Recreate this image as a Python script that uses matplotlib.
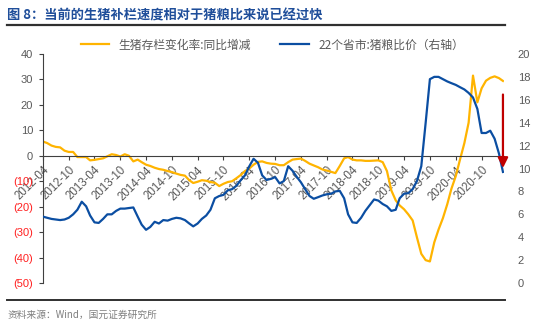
import pandas as pd
import matplotlib
matplotlib.use('Agg')
from matplotlib import pyplot as plt

plt.rcParams['font.family'] = ['Liberation Sans', 'Noto Sans CJK SC', 'DejaVu Sans']

# monthly data, 2012-04 .. 2021-03
start_month = '2012-04'
stock_yoy = [5.6, 5.0, 4.0, 3.5, 3.3, 2.0, 1.5, 1.5, -0.5, -0.5, -0.5, -1.8,
             -1.6, -1.3, -1.0, -0.2, 0.6, 0.3, -0.3, 0.6, 0.0, -2.2, -1.5, -2.5,
             -3.5, -4.0, -4.7, -5.2, -5.5, -6.0, -6.4, -7.0, -7.5, -7.8, -9.6, -10.7,
             -10.2, -9.6, -9.8, -10.3, -10.6, -11.9, -11.0, -10.3, -10.0, -8.8, -7.5, -6.0,
             -5.0, -3.5, -2.4, -2.2, -2.8, -3.1, -3.2, -3.7, -3.7, -2.5, -1.5, -1.3,
             -1.1, -2.0, -3.1, -3.8, -4.5, -5.4, -5.8, -6.3, -6.8, -4.0, -1.0, -0.5,
             -1.5, -1.8, -1.8, -2.0, -2.0, -1.9, -1.8, -2.5, -6.0, -13.6, -17.5, -19.5,
             -21.0, -23.0, -25.4, -32.0, -38.5, -41.0, -41.5, -34.0, -29.0, -24.5, -19.0, -13.0,
             -8.0, -1.5, 5.0, 13.0, 31.5, 21.0, 26.5, 29.5, 30.6, 31.2, 30.5, 29.4]
hog_grain = [5.8, 5.7, 5.6, 5.55, 5.5, 5.55, 5.7, 6.0, 6.4, 7.1, 6.7, 5.9,
             5.3, 5.25, 5.6, 6.0, 6.0, 6.3, 6.5, 6.5, 6.55, 6.6, 5.8, 5.1,
             4.65, 4.9, 5.35, 5.2, 5.5, 5.45, 5.6, 5.7, 5.65, 5.5, 5.2, 4.95,
             5.2, 5.6, 5.9, 6.4, 7.4, 7.6, 7.7, 8.1, 8.2, 8.5, 9.0, 9.4,
             10.2, 10.85, 10.5, 9.4, 9.0, 9.1, 9.25, 8.7, 8.9, 10.2, 9.8, 9.3,
             8.8, 8.2, 7.6, 7.36, 7.5, 7.65, 7.75, 7.8, 8.0, 8.05, 7.4, 6.0,
             5.3, 5.25, 5.7, 6.3, 6.8, 7.3, 7.2, 6.9, 6.7, 6.3, 6.4, 7.4,
             7.8, 7.85, 8.2, 8.9, 10.2, 14.0, 17.8, 18.0, 18.0, 17.8, 17.6, 17.45,
             17.3, 17.1, 16.9, 16.6, 16.2, 15.2, 13.1, 13.1, 13.3, 12.6, 11.3, 9.7]
tick_labels = ['2012-04', '2012-10', '2013-04', '2013-10', '2014-04', '2014-10',
               '2015-04', '2015-10', '2016-04', '2016-10', '2017-04', '2017-10',
               '2018-04', '2018-10', '2019-04', '2019-10', '2020-04', '2020-10']
left_ticks = [40, 30, 20, 10, 0, -10, -20, -30, -40, -50]
right_ticks = [0, 2, 4, 6, 8, 10, 12, 14, 16, 18, 20]
arrow_from, arrow_to = 16.7, 9.8

dates = pd.date_range(start_month, periods=len(stock_yoy), freq='MS')

yellow = '#FFB400'
blue = '#0B4EA2'
grey = '#595959'

fig = plt.figure(figsize=(5.5, 3.25), dpi=100)
ax = fig.add_axes([0.078, 0.129, 0.838, 0.705])
ax2 = ax.twinx()

l1, = ax.plot(dates, stock_yoy, color=yellow, lw=1.6, label='生猪存栏变化率:同比增减')
l2, = ax2.plot(dates, hog_grain, color=blue, lw=1.6, label='22个省市:猪粮比价（右轴）')

ax.set_ylim(-50, 40)
ax2.set_ylim(0, 20)
ax.set_xlim(dates[0], dates[-1] + pd.Timedelta(days=6))

ax.set_yticks(left_ticks)
ax.set_yticklabels([str(v) if v >= 0 else '(%d)' % -v for v in left_ticks], fontsize=8)
for lab, v in zip(ax.get_yticklabels(), left_ticks):
    lab.set_color(grey if v >= 0 else '#FF2020')
ax2.set_yticks(right_ticks)
ax2.set_yticklabels([str(v) for v in right_ticks], fontsize=8, color=grey)

for s in ['top', 'right']:
    ax.spines[s].set_visible(False)
for s in ax2.spines:
    ax2.spines[s].set_visible(False)
ax.spines['bottom'].set_position(('data', 0))
ax.spines['bottom'].set_color('#404040')
ax.spines['left'].set_color('#404040')
ax.tick_params(axis='x', length=3, color='#404040', pad=3, labelrotation=45)
ax.tick_params(axis='y', length=3, color='#404040', pad=4)
ax2.tick_params(axis='y', length=0, pad=10)

ax.set_xticks(pd.to_datetime(tick_labels))
ax.set_xticklabels(tick_labels, fontsize=8.3, color=grey)
for lab in ax.get_xticklabels():
    lab.set_rotation(45)
    lab.set_ha('right')
    lab.set_va('top')
    lab.set_rotation_mode('anchor')

ax2.annotate('', xy=(dates[-1], arrow_to), xytext=(dates[-1], arrow_from),
             arrowprops=dict(arrowstyle='-|>', color='#C00000', lw=1.6, mutation_scale=15))

fig.legend(handles=[l1, l2], loc='center', bbox_to_anchor=(0.495, 0.862), ncol=2,
           frameon=False, handlelength=2.4, columnspacing=2.5,
           labelcolor=grey, prop={'family': ['Noto Sans CJK SC'], 'size': 8.5})

fig.text(0.013, 0.953, '图 8：当前的生猪补栏速度相对于猪粮比来说已经过快', fontsize=9.5,
         fontweight='bold', color='#1F4E9A', family=['Noto Sans CJK SC'], va='center')
fig.add_artist(plt.Line2D([0.013, 0.918], [0.922, 0.922], color='#303030', lw=1.6))
fig.add_artist(plt.Line2D([0.013, 0.918], [0.078, 0.078], color='#303030', lw=1.4))
fig.text(0.013, 0.031, '资料来源：Wind，国元证券研究所', fontsize=7, color='#7F7F7F',
         family=['Noto Sans CJK SC'], va='center')

fig.savefig('out.png', dpi=100)
